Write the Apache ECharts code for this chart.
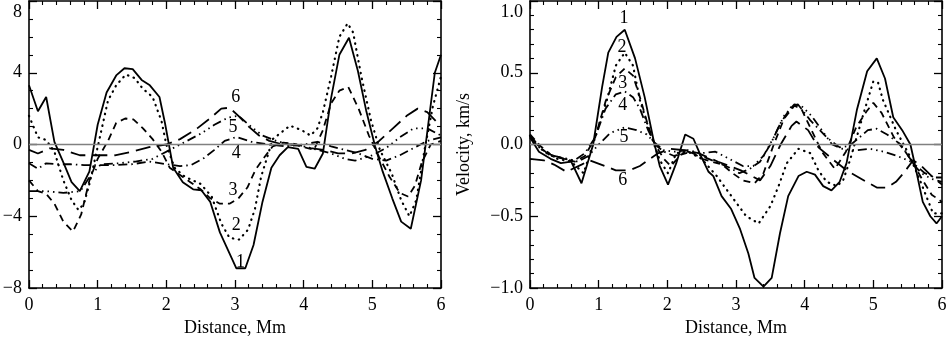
<!DOCTYPE html>
<html lang="en">
<head>
	<meta charset="utf-8" />
	<title>Velocity profiles</title>
	<script src="https://cdn.jsdelivr.net/npm/echarts@6/dist/echarts.min.js"></script>
	<style>
		html, body { margin: 0; padding: 0; background: #fff; }
	</style>
</head>
<body>
	<div id="chart" style="width:947px;height:339px;"></div>
	<script>
		// left panel, curves 1..6 as [distance Mm, value]
		var left1 = [[0,3.3],[0.13,1.85],[0.25,2.65],[0.37,0.15],[0.5,-1.0],[0.62,-2.1],[0.74,-2.6],[0.88,-1.5],[1.0,1.1],[1.13,2.9],[1.27,3.85],[1.39,4.25],[1.51,4.2],[1.64,3.6],[1.76,3.3],[1.9,2.65],[1.98,1.2],[2.1,-1.3],[2.24,-2.1],[2.39,-2.5],[2.51,-2.55],[2.64,-3.2],[2.78,-4.9],[2.9,-5.9],[3.02,-6.9],[3.15,-6.9],[3.27,-5.6],[3.4,-3.2],[3.53,-1.3],[3.65,-0.6],[3.77,-0.15],[3.92,-0.25],[4.04,-1.25],[4.16,-1.35],[4.28,-0.5],[4.4,2.6],[4.52,5.0],[4.66,5.95],[4.79,4.1],[4.91,1.9],[5.04,-0.1],[5.15,-1.5],[5.29,-3.0],[5.42,-4.3],[5.56,-4.7],[5.71,-2.0],[5.81,1.0],[5.91,4.0],[6.0,5.0]];
		var left2 = [[0,1.6],[0.13,0.4],[0.25,0.25],[0.37,-0.4],[0.5,-2.0],[0.62,-3.1],[0.72,-3.65],[0.8,-3.3],[0.88,-2.2],[1.02,0.2],[1.15,2.45],[1.27,3.3],[1.41,3.9],[1.54,3.7],[1.66,3.1],[1.8,2.65],[1.93,1.3],[2.0,0.0],[2.12,-1.3],[2.27,-1.8],[2.5,-2.2],[2.66,-2.9],[2.8,-4.4],[2.92,-5.2],[3.06,-5.3],[3.19,-4.75],[3.29,-3.6],[3.38,-1.8],[3.55,0.3],[3.8,1.05],[3.97,0.8],[4.1,0.5],[4.2,0.9],[4.28,1.8],[4.4,3.8],[4.52,6.0],[4.64,6.75],[4.72,6.25],[4.84,3.8],[4.98,1.35],[5.11,-0.3],[5.28,-1.6],[5.42,-3.1],[5.54,-4.0],[5.64,-3.1],[5.76,-0.3],[5.88,2.1],[6.0,3.8]];
		var left3 = [[0,-2.0],[0.13,-2.6],[0.25,-2.75],[0.37,-3.3],[0.5,-4.3],[0.64,-4.85],[0.76,-3.9],[0.88,-2.0],[1.0,-0.8],[1.15,0.2],[1.27,1.2],[1.4,1.45],[1.52,1.4],[1.66,0.9],[1.8,0.3],[1.93,-0.4],[2.05,-1.3],[2.2,-1.7],[2.35,-2.1],[2.5,-2.5],[2.64,-3.0],[2.78,-3.3],[2.92,-3.3],[3.05,-3.0],[3.18,-2.4],[3.3,-1.4],[3.43,-0.7],[3.55,-0.1],[3.7,0.1],[3.85,0.05],[4.0,-0.15],[4.15,-0.3],[4.28,0.8],[4.4,2.3],[4.52,3.0],[4.65,3.2],[4.8,2.0],[4.95,0.5],[5.1,-0.7],[5.25,-1.8],[5.4,-2.7],[5.52,-2.9],[5.62,-2.3],[5.72,-1.0],[5.85,0.0],[6.0,0.2]];
		var left4 = [[0,-1.05],[0.13,-1.35],[0.25,-1.05],[0.4,-1.1],[0.6,-1.1],[0.8,-1.15],[1.0,-1.15],[1.25,-1.15],[1.5,-1.1],[1.75,-0.95],[2.0,-1.1],[2.2,-1.2],[2.36,-1.15],[2.55,-0.75],[2.7,-0.3],[2.85,0.2],[3.02,0.42],[3.24,0.15],[3.5,0.0],[3.75,-0.1],[4.0,0.0],[4.2,0.15],[4.4,-0.1],[4.6,-0.3],[4.8,-0.5],[5.0,-0.8],[5.2,-0.9],[5.4,-0.6],[5.6,-0.2],[5.8,0.2],[6.0,0.4]];
		var left5 = [[0,-2.6],[0.25,-2.6],[0.5,-2.7],[0.75,-2.6],[0.9,-1.7],[1.05,-1.1],[1.3,-1.05],[1.55,-0.95],[1.8,-0.8],[1.95,-0.5],[2.1,-0.2],[2.3,0.2],[2.5,0.6],[2.7,1.1],[2.9,1.5],[3.05,1.6],[3.2,1.1],[3.4,0.5],[3.6,0.2],[3.8,0.0],[4.0,-0.1],[4.2,-0.3],[4.4,-0.5],[4.6,-0.8],[4.75,-0.9],[5.0,-0.6],[5.2,-0.2],[5.4,0.4],[5.6,0.9],[5.8,0.9],[6.0,0.5]];
		var left6 = [[0,-0.3],[0.13,-0.5],[0.3,-0.22],[0.5,-0.3],[0.74,-0.6],[1.0,-0.6],[1.25,-0.6],[1.5,-0.4],[1.75,-0.15],[2.0,0.0],[2.2,0.3],[2.45,0.9],[2.65,1.5],[2.8,2.0],[2.92,2.05],[3.05,1.6],[3.2,1.0],[3.35,0.5],[3.5,0.2],[3.7,0.0],[3.9,0.0],[4.1,-0.2],[4.3,-0.3],[4.5,-0.5],[4.7,-0.5],[4.9,-0.3],[5.1,0.2],[5.3,0.9],[5.5,1.6],[5.66,2.0],[5.8,1.8],[5.95,1.2],[6.0,1.1]];

		// right panel, velocity km/s
		var right1 = [[0,0.05],[0.13,-0.05],[0.3,-0.1],[0.45,-0.13],[0.6,-0.12],[0.75,-0.27],[0.92,0.0],[1.05,0.4],[1.14,0.64],[1.26,0.75],[1.38,0.8],[1.53,0.6],[1.67,0.33],[1.8,0.03],[1.89,-0.15],[2.01,-0.28],[2.13,-0.13],[2.26,0.07],[2.38,0.04],[2.48,-0.07],[2.6,-0.19],[2.67,-0.22],[2.79,-0.36],[2.93,-0.45],[3.06,-0.59],[3.18,-0.76],[3.27,-0.93],[3.4,-0.99],[3.52,-0.93],[3.64,-0.62],[3.76,-0.36],[3.91,-0.22],[4.03,-0.19],[4.15,-0.21],[4.27,-0.29],[4.39,-0.32],[4.51,-0.26],[4.61,-0.13],[4.76,0.24],[4.91,0.51],[5.05,0.6],[5.17,0.46],[5.29,0.19],[5.42,0.1],[5.54,0.0],[5.61,-0.15],[5.72,-0.4],[5.83,-0.5],[5.92,-0.55],[6.0,-0.5]];
		var right2 = [[0,0.06],[0.2,-0.05],[0.4,-0.1],[0.6,-0.12],[0.78,-0.2],[0.97,0.08],[1.12,0.31],[1.25,0.55],[1.38,0.64],[1.5,0.55],[1.6,0.31],[1.75,0.08],[1.89,-0.11],[2.01,-0.2],[2.13,-0.06],[2.3,-0.05],[2.5,-0.1],[2.72,-0.22],[3.01,-0.41],[3.15,-0.5],[3.33,-0.55],[3.5,-0.43],[3.62,-0.29],[3.74,-0.13],[3.91,-0.03],[4.08,-0.06],[4.2,-0.18],[4.32,-0.26],[4.47,-0.29],[4.56,-0.25],[4.66,-0.11],[4.86,0.22],[5.0,0.44],[5.07,0.43],[5.14,0.31],[5.33,0.1],[5.53,-0.08],[5.68,-0.25],[5.87,-0.48],[6.0,-0.48]];
		var right3 = [[0,0.07],[0.15,-0.01],[0.3,-0.07],[0.5,-0.1],[0.65,-0.12],[0.8,-0.08],[0.95,0.05],[1.1,0.3],[1.25,0.47],[1.38,0.53],[1.5,0.48],[1.6,0.33],[1.72,0.13],[1.82,0.0],[1.95,-0.1],[2.05,-0.15],[2.2,-0.07],[2.35,-0.05],[2.5,-0.1],[2.65,-0.12],[2.8,-0.14],[2.95,-0.2],[3.1,-0.25],[3.27,-0.27],[3.4,-0.2],[3.55,0.0],[3.7,0.18],[3.85,0.27],[3.95,0.25],[4.1,0.1],[4.25,-0.05],[4.44,-0.17],[4.6,-0.05],[4.75,0.12],[4.9,0.23],[5.0,0.29],[5.12,0.22],[5.3,0.05],[5.45,-0.04],[5.58,-0.13],[5.72,-0.25],[5.85,-0.35],[6.0,-0.4]];
		var right4 = [[0,0.06],[0.15,-0.02],[0.3,-0.08],[0.5,-0.1],[0.65,-0.11],[0.8,-0.06],[0.95,0.05],[1.1,0.25],[1.25,0.35],[1.38,0.37],[1.5,0.33],[1.6,0.25],[1.72,0.1],[1.82,0.0],[1.95,-0.05],[2.1,-0.08],[2.3,-0.05],[2.5,-0.08],[2.7,-0.12],[2.9,-0.16],[3.05,-0.2],[3.2,-0.17],[3.35,-0.12],[3.5,0.0],[3.65,0.15],[3.8,0.26],[3.9,0.28],[4.08,0.17],[4.32,0.05],[4.51,-0.02],[4.65,-0.01],[4.8,0.05],[4.92,0.1],[5.05,0.11],[5.2,0.07],[5.4,0.0],[5.58,-0.13],[5.75,-0.2],[5.9,-0.23],[6.0,-0.23]];
		var right5 = [[0,0.05],[0.15,-0.03],[0.35,-0.08],[0.55,-0.1],[0.7,-0.12],[0.85,-0.08],[1.0,0.0],[1.17,0.08],[1.38,0.12],[1.55,0.1],[1.7,0.07],[1.82,0.01],[1.95,-0.04],[2.1,-0.05],[2.3,-0.04],[2.5,-0.06],[2.7,-0.05],[2.9,-0.1],[3.1,-0.15],[3.25,-0.15],[3.4,-0.08],[3.55,0.05],[3.7,0.2],[3.85,0.28],[3.95,0.27],[4.1,0.2],[4.25,0.1],[4.4,0.0],[4.55,-0.03],[4.75,-0.04],[4.95,-0.03],[5.15,-0.05],[5.35,-0.08],[5.55,-0.12],[5.7,-0.2],[5.85,-0.24],[6.0,-0.26]];
		var right6 = [[0,-0.1],[0.2,-0.11],[0.35,-0.14],[0.53,-0.19],[0.75,-0.14],[0.87,-0.11],[1.09,-0.15],[1.25,-0.18],[1.45,-0.18],[1.6,-0.15],[1.75,-0.1],[1.87,-0.06],[2.05,-0.03],[2.25,-0.04],[2.45,-0.06],[2.74,-0.12],[3.07,-0.18],[3.35,-0.25],[3.5,-0.15],[3.65,0.0],[3.81,0.13],[3.88,0.16],[4.05,0.1],[4.2,-0.02],[4.4,-0.1],[4.61,-0.18],[4.9,-0.26],[5.05,-0.3],[5.2,-0.3],[5.33,-0.26],[5.44,-0.2],[5.58,-0.11],[5.7,-0.15],[5.85,-0.22],[6.0,-0.28]];

		// curve numbers written on the panels
		var curveNames = ['1', '2', '3', '4', '5', '6'];
		var leftLabelPos = [[3.08,-6.55],[3.02,-4.5],[2.97,-2.54],[3.02,-0.48],[2.97,0.96],[3.01,2.63]];
		var rightLabelPos = [[1.37,0.88],[1.34,0.68],[1.35,0.43],[1.35,0.27],[1.37,0.05],[1.35,-0.25]];

		var leftCurves = [left1, left2, left3, left4, left5, left6];
		var rightCurves = [right1, right2, right3, right4, right5, right6];

		var dashes = [
			'solid',
			[0.5, 5.5],
			[7, 5],
			[9, 4, 1.5, 4],
			[9, 4, 1.5, 4, 1.5, 4, 1.5, 4],
			[15, 7]
		];

		var serif = '"Liberation Serif", "DejaVu Serif", serif';

		var dom = document.getElementById('chart');
		var myChart = echarts.init(dom, null, {renderer: 'canvas'});

		function xAx(grid, top) {
			return {
				type: 'value', gridIndex: grid, min: 0, max: 6, interval: 1,
				position: top ? 'top' : 'bottom',
				axisLine: {show: true, onZero: false, lineStyle: {color: '#000', width: 1.6}},
				axisTick: {show: true, inside: true, length: 8, lineStyle: {color: '#000', width: 1.3}},
				minorTick: {show: true, splitNumber: 5, length: 4, lineStyle: {color: '#000', width: 1.1}},
				axisLabel: {show: !top, margin: 8, color: '#000', fontFamily: serif, fontSize: 18},
				splitLine: {show: false},
				name: top ? '' : 'Distance, Mm',
				nameLocation: 'middle', nameGap: 29,
				nameTextStyle: {color: '#000', fontFamily: serif, fontSize: 18}
			};
		}

		function yAx(grid, right, mn, mx, step, minor, fmt, title) {
			return {
				type: 'value', gridIndex: grid, min: mn, max: mx, interval: step,
				position: right ? 'right' : 'left',
				axisLine: {show: true, onZero: false, lineStyle: {color: '#000', width: 1.6}},
				axisTick: {show: true, inside: true, length: 8, lineStyle: {color: '#000', width: 1.3}},
				minorTick: {show: true, splitNumber: minor, length: 4, lineStyle: {color: '#000', width: 1.1}},
				axisLabel: {
					show: !right, margin: 7, color: '#000', fontFamily: serif, fontSize: 18,
					formatter: function (v) {
						// top label sits lower so it stays on the page
						return v === mx ? '{top|' + fmt(v) + '}' : fmt(v);
					},
					rich: {top: {fontFamily: serif, fontSize: 18, color: '#000', padding: [22, 0, 0, 0]}}
				},
				splitLine: {show: false},
				name: right ? '' : title,
				nameLocation: 'middle', nameGap: 57, nameRotate: 90,
				nameTextStyle: {color: '#000', fontFamily: serif, fontSize: 18}
			};
		}

		function minus(s) { return s.replace('-', '\u2212'); }

		var series = [];
		[leftCurves, rightCurves].forEach(function (curves, g) {
			curves.forEach(function (pts, i) {
				var s = {
					type: 'line', xAxisIndex: g * 2, yAxisIndex: g * 2,
					data: pts, showSymbol: false, symbol: 'none', animation: false,
					lineStyle: {color: '#000', width: i === 1 ? 2.2 : 1.8, type: dashes[i], cap: i === 1 ? 'round' : 'butt'},
					z: 3
				};
				if (i === 0) {
					s.markLine = {
						silent: true, symbol: 'none', animation: false,
						label: {show: false},
						lineStyle: {color: '#808080', type: 'solid', width: 1.3},
						data: [{yAxis: 0}]
					};
				}
				series.push(s);
			});
		});

		[leftLabelPos, rightLabelPos].forEach(function (pos, g) {
			series.push({
				type: 'scatter', xAxisIndex: g * 2, yAxisIndex: g * 2,
				symbolSize: 0, animation: false, silent: true, z: 5,
				itemStyle: {color: '#000'},
				label: {
					show: true, position: 'inside', formatter: '{b}', color: '#000',
					fontFamily: serif, fontSize: 18, textBorderWidth: 0, opacity: 1
				},
				data: pos.map(function (p, i) { return {name: curveNames[i], value: p}; })
			});
		});

		var noFmt = function (v) { return ''; };
		var option = {
			backgroundColor: '#fff',
			animation: false,
			grid: [
				{left: 29, top: 1, width: 412, height: 287, outerBoundsMode: 'none'},
				{left: 530, top: 1, width: 412, height: 287, outerBoundsMode: 'none'}
			],
			xAxis: [xAx(0, false), xAx(0, true), xAx(1, false), xAx(1, true)],
			yAxis: [
				yAx(0, false, -8, 8, 4, 4, function (v) { return minus(String(v)); }, ''),
				yAx(0, true, -8, 8, 4, 4, noFmt, ''),
				yAx(1, false, -1, 1, 0.5, 5, function (v) { return minus(v.toFixed(1)); }, 'Velocity, km/s'),
				yAx(1, true, -1, 1, 0.5, 5, noFmt, '')
			],
			series: series
		};
		myChart.setOption(option);
	</script>
</body>
</html>
